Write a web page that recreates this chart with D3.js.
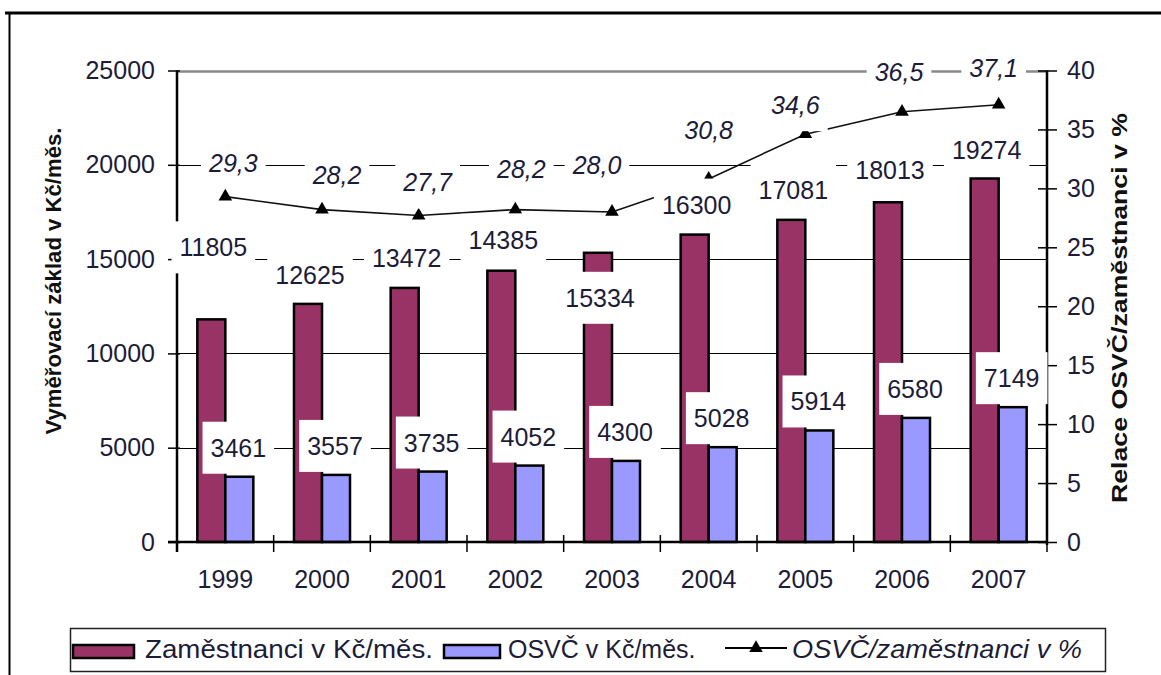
<!DOCTYPE html>
<html>
<head>
<meta charset="utf-8">
<script src="https://cdn.jsdelivr.net/npm/d3@7"></script>
<style>
  html, body { margin: 0; padding: 0; background: #fff; }
  svg { display: block; font-family: "Liberation Sans", Arial, sans-serif; }
</style>
</head>
<body>
<svg id="chart" width="1161" height="675"></svg>
<script>
// Roky a hodnoty
const years = ["1999", "2000", "2001", "2002", "2003", "2004", "2005", "2006", "2007"];
const employees = [11805, 12625, 13472, 14385, 15334, 16300, 17081, 18013, 19274];
const selfEmployed = [3461, 3557, 3735, 4052, 4300, 5028, 5914, 6580, 7149];
const ratio = [29.3, 28.2, 27.7, 28.2, 28.0, 30.8, 34.6, 36.5, 37.1];

const leftTicks = [0, 5000, 10000, 15000, 20000, 25000];
const rightTicks = [0, 5, 10, 15, 20, 25, 30, 35, 40];

const seriesNames = ["Zaměstnanci v Kč/měs.", "OSVČ v Kč/měs.", "OSVČ/zaměstnanci v %"];
const leftTitle = "Vyměřovací základ v Kč/měs.";
const rightTitle = "Relace OSVČ/zaměstnanci v %";

// Ruční posuny popisků (px) vůči vrcholu sloupce / bodu
const empLabelDy = [-72, -29, -30, -31, 45, -30, -30, -32, -28];
const ratioLabelDx = [8, 15, 9, 6, -15, 0, -10, -3, -5];
const ratioLabelDy = [-34, -35, -33, -41, -47, -49, -29, -40, -37];

const colEmp = "#993366";
const colOsvc = "#9999ff";
const textCol = "#1c1c38";

const svg = d3.select("#chart");
const plotL = 177, plotR = 1047, plotT = 70.5, plotB = 542;

const x = d3.scaleBand().domain(years).range([plotL, plotR]).padding(0);
const bw = x.bandwidth();
const x1 = d3.scaleBand().domain(["emp", "osvc"]).range([bw / 2 - 28, bw / 2 + 28]).padding(0);
const y = d3.scaleLinear().domain([0, 25000]).range([plotB, plotT]);
const yR = d3.scaleLinear().domain([0, 40]).range([plotB, plotT]);

// rámeček
svg.append("line").attr("x1", 5).attr("x2", 1161).attr("y1", 13).attr("y2", 13)
  .attr("stroke", "#000").attr("stroke-width", 3);
svg.append("line").attr("x1", 9.5).attr("x2", 9.5).attr("y1", 12).attr("y2", 675)
  .attr("stroke", "#000").attr("stroke-width", 2);

// mřížka
svg.append("g").selectAll("line").data(leftTicks.filter(d => d > 0)).join("line")
  .attr("x1", plotL).attr("x2", plotR)
  .attr("y1", d => Math.round(y(d)) + 0.5).attr("y2", d => Math.round(y(d)) + 0.5)
  .attr("stroke", d => d === 25000 ? "#888" : "#000")
  .attr("stroke-width", d => d === 25000 ? 2.5 : 1.2);

// sloupce
const g = svg.append("g");
g.selectAll("rect.emp").data(employees).join("rect").attr("class", "emp")
  .attr("x", (d, i) => x(years[i]) + x1("emp"))
  .attr("width", x1.bandwidth())
  .attr("y", d => y(d)).attr("height", d => y(0) - y(d))
  .attr("fill", colEmp).attr("stroke", "#000").attr("stroke-width", 2.5);
g.selectAll("rect.osvc").data(selfEmployed).join("rect").attr("class", "osvc")
  .attr("x", (d, i) => x(years[i]) + x1("osvc"))
  .attr("width", x1.bandwidth())
  .attr("y", d => y(d)).attr("height", d => y(0) - y(d))
  .attr("fill", colOsvc).attr("stroke", "#000").attr("stroke-width", 2.5);

// osy
const axL = svg.append("g").attr("transform", `translate(${plotL},0)`)
  .call(d3.axisLeft(y).tickValues(leftTicks).tickSize(9).tickSizeOuter(0).tickPadding(13).tickFormat(d3.format("d")));
axL.select(".domain").attr("stroke-width", 2.5).attr("d", `M0,${plotT}V${plotB + 10}`);
axL.selectAll(".tick line").attr("x2", -9).attr("x1", 3).attr("stroke-width", 1.5);

const axR = svg.append("g").attr("transform", `translate(${plotR},0)`)
  .call(d3.axisRight(yR).tickValues(rightTicks).tickSize(10).tickSizeOuter(0).tickPadding(10).tickFormat(d3.format("d")));
axR.select(".domain").attr("stroke-width", 2.5).attr("d", `M0,${plotT}V${plotB + 3}`);
axR.selectAll(".tick line").attr("x1", -9).attr("stroke-width", 1.5);

const axB = svg.append("g").attr("transform", `translate(0,${plotB})`)
  .call(d3.axisBottom(x).tickSize(0).tickSizeOuter(0).tickPadding(28));
axB.select(".domain").attr("stroke-width", 2.5).attr("d", `M${plotL - 9},0H${plotR}`);
svg.append("g").selectAll("line").data(years.concat(["end"])).join("line")
  .attr("x1", d => d === "end" ? plotR : x(d)).attr("x2", d => d === "end" ? plotR : x(d))
  .attr("y1", plotB - 7).attr("y2", plotB + 10)
  .attr("stroke", "#000").attr("stroke-width", 1.5);

[axL, axR, axB].forEach(a => {
  a.selectAll("text").attr("font-size", 25).attr("fill", textCol)
    .attr("font-family", "'Liberation Sans', Arial, sans-serif");
});

// čára poměru
const px = (d, i) => x(years[i]) + bw / 2;
svg.append("path").datum(ratio)
  .attr("d", d3.line().x(px).y(d => yR(d)))
  .attr("fill", "none").attr("stroke", "#111").attr("stroke-width", 1.6);
svg.append("g").selectAll("path").data(ratio).join("path")
  .attr("d", d3.symbol(d3.symbolTriangle, 80))
  .attr("transform", (d, i) => `translate(${px(d, i)},${yR(d)})`)
  .attr("fill", "#000");

// popisky s bílým pozadím
function boxLabel(parent, cx, cy, txt, italic) {
  const gg = parent.append("g");
  const r = gg.append("rect").attr("fill", "#fff");
  const t = gg.append("text").attr("x", cx).attr("y", cy).attr("dy", "0.36em")
    .attr("text-anchor", "middle").attr("font-size", 25).attr("fill", textCol)
    .attr("font-style", italic ? "italic" : null).text(txt);
  const w = t.node().getComputedTextLength();
  r.attr("x", cx - w / 2 - 8).attr("width", w + 16).attr("y", cy - 26).attr("height", 52);
}
const labels = svg.append("g");
const fmtComma = d => d3.format(".1f")(d).replace(".", ",");
employees.forEach((v, i) => {
  boxLabel(labels, x(years[i]) + x1("emp") + x1.bandwidth() / 2 + 2, y(v) + empLabelDy[i], String(v), false);
});
selfEmployed.forEach((v, i) => {
  boxLabel(labels, x(years[i]) + x1("osvc") + x1.bandwidth() / 2 - 1, y(v) - 29, String(v), false);
});
ratio.forEach((v, i) => {
  boxLabel(labels, px(v, i) + ratioLabelDx[i], yR(v) + ratioLabelDy[i], fmtComma(v), true);
});

// názvy os
svg.append("text").attr("transform", `translate(61,${281}) rotate(-90)`)
  .attr("text-anchor", "middle").attr("font-size", 22).attr("font-weight", "bold")
  .attr("fill", "#111").attr("textLength", 307).attr("lengthAdjust", "spacingAndGlyphs").text(leftTitle);
svg.append("text").attr("transform", `translate(1127,${308}) rotate(-90)`)
  .attr("text-anchor", "middle").attr("font-size", 22).attr("font-weight", "bold")
  .attr("fill", "#111").attr("textLength", 390).attr("lengthAdjust", "spacingAndGlyphs").text(rightTitle);

// legenda
const lg = svg.append("g");
lg.append("rect").attr("x", 70.5).attr("y", 628.5).attr("width", 1035).attr("height", 43)
  .attr("fill", "#fff").attr("stroke", "#222").attr("stroke-width", 1.5);
lg.append("rect").attr("x", 73).attr("y", 645).attr("width", 61).attr("height", 13)
  .attr("fill", colEmp).attr("stroke", "#000").attr("stroke-width", 2.5);
lg.append("text").attr("x", 145).attr("y", 658).attr("font-size", 25).attr("fill", textCol)
  .attr("textLength", 288).attr("lengthAdjust", "spacingAndGlyphs").text(seriesNames[0]);
lg.append("rect").attr("x", 444).attr("y", 645).attr("width", 56).attr("height", 13)
  .attr("fill", colOsvc).attr("stroke", "#000").attr("stroke-width", 2.5);
lg.append("text").attr("x", 508).attr("y", 658).attr("font-size", 25).attr("fill", textCol)
  .text(seriesNames[1]);
lg.append("line").attr("x1", 725).attr("x2", 787).attr("y1", 648).attr("y2", 648)
  .attr("stroke", "#000").attr("stroke-width", 2);
lg.append("path").attr("d", d3.symbol(d3.symbolTriangle, 80))
  .attr("transform", "translate(756,648)").attr("fill", "#000");
lg.append("text").attr("x", 792).attr("y", 658).attr("font-size", 25).attr("fill", textCol)
  .attr("font-style", "italic").attr("textLength", 290).attr("lengthAdjust", "spacingAndGlyphs")
  .text(seriesNames[2]);
</script>
</body>
</html>
